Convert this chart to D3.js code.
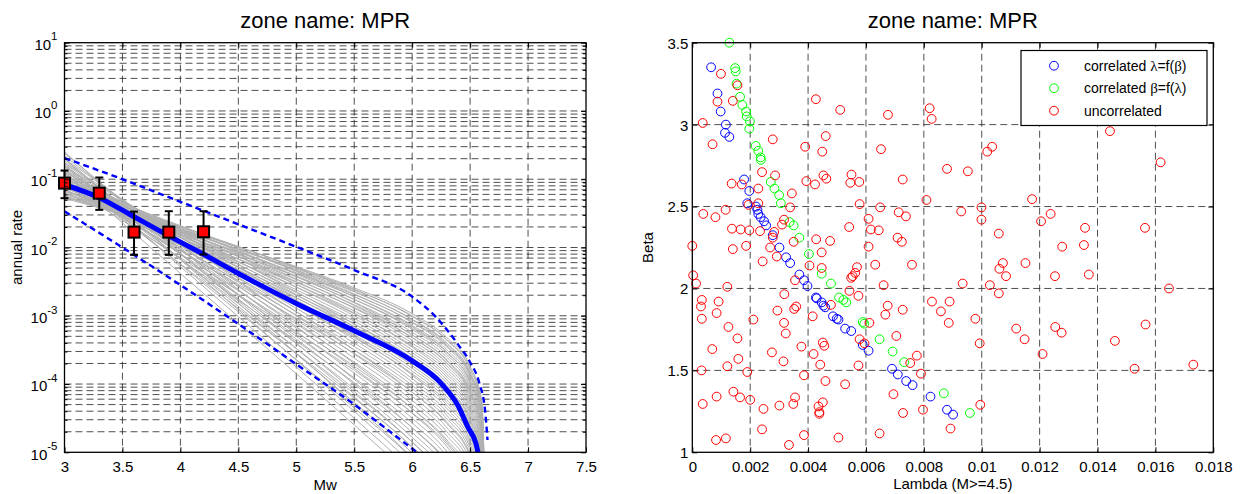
<!DOCTYPE html>
<html>
<head>
<meta charset="utf-8">
<script src="https://cdn.jsdelivr.net/npm/d3@7"></script>
<style>
  body { margin: 0; background: #fff; }
  svg { font-family: "Liberation Sans", Arial, Helvetica, sans-serif; }
</style>
</head>
<body>
<svg id="chart" width="1244" height="494"></svg>
<script>
// ---------- left panel: recurrence curves (log10 of annual rate) ----------
const mwTicks = [3, 3.5, 4, 4.5, 5, 5.5, 6, 6.5, 7, 7.5];
const grayMw = [3, 4, 5, 5.5, 6, 6.3, 6.5, 6.6, 6.65];
const grayLog10 = [
  [-1.25, -1.73, -2.28, -2.59, -2.97, -3.32, -3.74, -4.24, -8],
  [-1.28, -1.76, -2.31, -2.62, -3.00, -3.35, -3.77, -4.27, -8],
  [-1.18, -1.70, -2.29, -2.61, -3.01, -3.36, -3.79, -4.29, -8],
  [-1.22, -1.74, -2.33, -2.65, -3.05, -3.40, -3.83, -4.33, -8],
  [-1.26, -1.78, -2.37, -2.69, -3.09, -3.44, -3.87, -4.37, -8],
  [-1.12, -1.69, -2.30, -2.64, -3.06, -3.42, -3.85, -4.35, -8],
  [-1.16, -1.73, -2.34, -2.68, -3.10, -3.46, -3.89, -4.39, -8],
  [-1.20, -1.77, -2.38, -2.72, -3.14, -3.50, -3.93, -4.43, -8],
  [-1.24, -1.81, -2.42, -2.76, -3.18, -3.54, -3.97, -4.47, -8],
  [-1.05, -1.68, -2.35, -2.72, -3.16, -3.53, -3.97, -4.47, -8],
  [-1.09, -1.72, -2.39, -2.76, -3.20, -3.57, -4.01, -4.51, -8],
  [-1.13, -1.76, -2.43, -2.80, -3.24, -3.61, -4.05, -4.55, -8],
  [-1.17, -1.80, -2.47, -2.84, -3.28, -3.65, -4.09, -4.59, -8],
  [-1.21, -1.84, -2.51, -2.88, -3.32, -3.69, -4.13, -4.63, -8],
  [-1.00, -1.70, -2.42, -2.81, -3.28, -3.66, -4.11, -4.62, -8],
  [-1.04, -1.74, -2.46, -2.85, -3.32, -3.70, -4.15, -4.66, -8],
  [-1.08, -1.78, -2.50, -2.89, -3.36, -3.74, -4.19, -4.70, -8],
  [-1.12, -1.82, -2.54, -2.93, -3.40, -3.78, -4.23, -4.74, -8],
  [-1.16, -1.86, -2.58, -2.97, -3.44, -3.82, -4.27, -4.78, -8],
  [-0.95, -1.73, -2.54, -2.96, -3.46, -3.86, -4.31, -4.83, -8],
  [-0.99, -1.77, -2.58, -3.00, -3.50, -3.90, -4.35, -4.87, -8],
  [-1.03, -1.81, -2.62, -3.04, -3.54, -3.94, -4.39, -4.91, -8],
  [-1.07, -1.85, -2.66, -3.08, -3.58, -3.98, -4.43, -4.95, -8],
  [-1.11, -1.89, -2.70, -3.12, -3.62, -4.02, -4.47, -4.99, -8],
  [-1.15, -1.93, -2.74, -3.16, -3.66, -4.06, -4.51, -5.03, -8],
  [-0.90, -1.77, -2.65, -3.12, -3.65, -4.07, -4.53, -5.05, -8],
  [-0.94, -1.81, -2.69, -3.16, -3.69, -4.11, -4.57, -5.09, -8],
  [-0.98, -1.85, -2.73, -3.20, -3.73, -4.15, -4.61, -5.13, -8],
  [-1.02, -1.89, -2.77, -3.24, -3.77, -4.19, -4.65, -5.17, -8],
  [-1.06, -1.93, -2.81, -3.28, -3.81, -4.23, -4.69, -5.21, -8],
  [-1.10, -1.97, -2.85, -3.32, -3.85, -4.27, -4.73, -5.25, -8],
  [-0.82, -1.80, -2.79, -3.30, -3.87, -4.31, -4.78, -5.31, -8],
  [-0.87, -1.85, -2.84, -3.35, -3.92, -4.36, -4.83, -5.36, -8],
  [-0.92, -1.90, -2.89, -3.40, -3.97, -4.41, -4.88, -5.41, -8],
  [-0.97, -1.95, -2.94, -3.45, -4.02, -4.46, -4.93, -5.46, -8],
  [-1.02, -2.00, -2.99, -3.50, -4.07, -4.51, -4.98, -5.51, -8],
  [-1.07, -2.05, -3.04, -3.55, -4.12, -4.56, -5.03, -5.56, -8],
  [-0.76, -1.85, -2.94, -3.50, -4.12, -4.58, -5.06, -5.60, -8],
  [-0.82, -1.91, -3.00, -3.56, -4.18, -4.64, -5.12, -5.66, -8],
  [-0.88, -1.97, -3.06, -3.62, -4.24, -4.70, -5.18, -5.72, -8],
  [-0.94, -2.03, -3.12, -3.68, -4.30, -4.76, -5.24, -5.78, -8],
  [-1.00, -2.09, -3.18, -3.74, -4.36, -4.82, -5.30, -5.84, -8],
  [-1.06, -2.15, -3.24, -3.80, -4.42, -4.88, -5.36, -5.90, -8],
  [-0.70, -1.89, -3.09, -3.70, -4.36, -4.85, -5.35, -5.89, -8],
  [-0.77, -1.96, -3.16, -3.77, -4.43, -4.92, -5.42, -5.96, -8],
  [-0.84, -2.03, -3.23, -3.84, -4.50, -4.99, -5.49, -6.03, -8],
  [-0.91, -2.10, -3.30, -3.91, -4.57, -5.06, -5.56, -6.10, -8],
  [-0.98, -2.17, -3.37, -3.98, -4.64, -5.13, -5.63, -6.17, -8],
  [-0.66, -1.96, -3.27, -3.93, -4.64, -5.15, -5.66, -6.21, -8],
  [-0.73, -2.03, -3.34, -4.00, -4.71, -5.22, -5.73, -6.28, -8],
  [-0.80, -2.10, -3.41, -4.07, -4.78, -5.29, -5.80, -6.35, -8],
  [-0.87, -2.17, -3.48, -4.14, -4.85, -5.36, -5.87, -6.42, -8],
  [-0.94, -2.24, -3.55, -4.21, -4.92, -5.43, -5.94, -6.49, -8],
  [-0.62, -2.01, -3.40, -4.11, -4.85, -5.38, -5.90, -6.45, -8],
  [-0.70, -2.09, -3.48, -4.19, -4.93, -5.46, -5.98, -6.53, -8],
  [-0.78, -2.17, -3.56, -4.27, -5.01, -5.54, -6.06, -6.61, -8],
  [-0.86, -2.25, -3.64, -4.35, -5.09, -5.62, -6.14, -6.69, -8],
  [-0.60, -2.08, -3.55, -4.30, -5.08, -5.63, -6.17, -6.73, -8],
  [-0.70, -2.18, -3.65, -4.40, -5.18, -5.73, -6.27, -6.83, -8],
  [-0.80, -2.28, -3.75, -4.50, -5.28, -5.83, -6.37, -6.93, -8],
  [-0.90, -2.38, -3.85, -4.60, -5.38, -5.93, -6.47, -7.03, -8]
];
const meanMw = [3, 3.3, 3.6, 3.9, 4.2, 4.5, 5, 5.5, 6, 6.25, 6.4, 6.48, 6.55, 6.58];
const meanLog10 = [-1.08, -1.27, -1.55, -1.83, -2.10, -2.38, -2.82, -3.22, -3.66, -3.99, -4.33, -4.63, -4.87, -5.1];
const upperMw = [3, 3.5, 4, 4.5, 5, 5.5, 6, 6.2, 6.4, 6.5, 6.58, 6.63, 6.65];
const upperLog10 = [-0.69, -1.0, -1.33, -1.66, -1.99, -2.33, -2.72, -3.01, -3.43, -3.68, -3.99, -4.4, -4.82];
const lowerMw = [3, 3.5, 4, 4.5, 5, 5.5, 5.75, 6.04];
const lowerLog10 = [-1.47, -2.0, -2.55, -3.12, -3.71, -4.30, -4.62, -5.0];
const obsMw = [3, 3.3, 3.6, 3.9, 4.2];
const obsRate = [0.0877, 0.0625, 0.0168, 0.0168, 0.0170];
const obsLow = [0.0528, 0.0356, 0.0078, 0.0078, 0.0079];
const obsHigh = [0.134, 0.106, 0.0336, 0.0340, 0.0340];

// ---------- right panel: [Lambda(M>=4.5), Beta] samples ----------
const lambdaTicks = [0, 0.002, 0.004, 0.006, 0.008, 0.01, 0.012, 0.014, 0.016, 0.018];
const betaTicks = [1, 1.5, 2, 2.5, 3, 3.5];
const corrLambda = [
  [0.00065, 3.35], [0.00087, 3.19], [0.00098, 3.08], [0.00116, 3.00], [0.00113, 2.95], [0.00128, 2.925],
  [0.00179, 2.665], [0.00197, 2.595], [0.00190, 2.52], [0.00220, 2.50], [0.00225, 2.48], [0.00228, 2.455],
  [0.00236, 2.435], [0.00248, 2.41], [0.00255, 2.385], [0.00278, 2.325], [0.00301, 2.25], [0.00324, 2.19],
  [0.00338, 2.155], [0.00370, 2.085], [0.00386, 2.05], [0.00398, 2.015], [0.00427, 1.945], [0.00430, 1.94],
  [0.00447, 1.915], [0.00453, 1.895], [0.00459, 1.885], [0.00486, 1.83], [0.00499, 1.815], [0.00505, 1.81],
  [0.00528, 1.755], [0.00549, 1.74], [0.00589, 1.655], [0.00609, 1.62], [0.00690, 1.51], [0.00710, 1.475],
  [0.00739, 1.435], [0.00761, 1.41], [0.00823, 1.34], [0.00880, 1.26], [0.00901, 1.23]
];
const corrBeta = [
  [0.00128, 3.50], [0.00148, 3.345], [0.00150, 3.325], [0.00153, 3.25], [0.00165, 3.17], [0.00173, 3.12],
  [0.00186, 3.08], [0.00188, 3.05], [0.00199, 3.02], [0.00197, 2.975], [0.00219, 2.87], [0.00228, 2.84],
  [0.00236, 2.80], [0.00237, 2.785], [0.00271, 2.65], [0.00284, 2.61], [0.00300, 2.57], [0.00306, 2.52],
  [0.00336, 2.405], [0.00350, 2.385], [0.00370, 2.31], [0.00403, 2.21], [0.00447, 2.09], [0.00479, 2.03],
  [0.00507, 1.945], [0.00522, 1.93], [0.00532, 1.915], [0.00589, 1.795], [0.00594, 1.785], [0.00647, 1.69],
  [0.00692, 1.615], [0.00732, 1.55], [0.00869, 1.36], [0.00959, 1.24]
];
const uncorrelated = [
  [0.00099, 3.31], [0.00087, 3.14], [0.00140, 3.145], [0.00156, 3.24], [0.00036, 3.01], [0.00070, 2.88],
  [0.00278, 2.91], [0.00427, 3.155], [0.00511, 3.09], [0.00676, 3.06], [0.00390, 2.865], [0.00461, 2.93],
  [0.00449, 2.835], [0.00652, 2.85], [0.00241, 2.71], [0.00286, 2.69], [0.00394, 2.655], [0.00424, 2.635],
  [0.00453, 2.69], [0.00463, 2.67], [0.00550, 2.695], [0.00546, 2.645], [0.00577, 2.65], [0.00727, 2.665],
  [0.00136, 2.64], [0.00171, 2.635], [0.00228, 2.61], [0.00344, 2.58], [0.00038, 2.455], [0.00080, 2.435],
  [0.00115, 2.48], [0.00194, 2.51], [0.00228, 2.52], [0.00338, 2.495], [0.00578, 2.515], [0.00317, 2.42],
  [0.00310, 2.39], [0.00542, 2.375], [0.00609, 2.425], [0.00617, 2.36], [0.00644, 2.355], [0.00649, 2.495],
  [0.00713, 2.465], [0.00738, 2.44], [0.00809, 2.54], [0.00137, 2.365], [0.00167, 2.36], [0.00197, 2.355],
  [0.00234, 2.35], [0.00283, 2.345], [0.00278, 2.31], [0.00350, 2.285], [0.00428, 2.30], [0.00476, 2.29],
  [0.00609, 2.255], [0.00709, 2.31], [0.00724, 2.285], [0.00000, 2.26], [0.00140, 2.24], [0.00186, 2.26],
  [0.00269, 2.25], [0.00447, 2.22],
  [0.00292, 2.195], [0.00243, 2.165], [0.00405, 2.14], [0.00447, 2.125], [0.00632, 2.145], [0.00759, 2.145],
  [0.00569, 2.13], [0.00563, 2.095], [0.00554, 2.075], [0.00549, 2.065], [0.00003, 2.08], [0.00013, 2.03],
  [0.00121, 2.01], [0.00355, 2.05], [0.00318, 1.965], [0.00543, 1.985], [0.00574, 1.955], [0.00661, 2.02],
  [0.00033, 1.93], [0.00030, 1.89], [0.00091, 1.92], [0.00033, 1.815], [0.00084, 1.85], [0.00125, 1.765],
  [0.00211, 1.81], [0.00294, 1.865], [0.00317, 1.79], [0.00323, 1.725], [0.00352, 1.875], [0.00359, 1.89],
  [0.00416, 1.83], [0.00479, 1.90], [0.00612, 1.79], [0.00667, 1.84], [0.00675, 1.895], [0.00727, 1.87],
  [0.00069, 1.63], [0.00156, 1.695], [0.00275, 1.61], [0.00377, 1.645], [0.00419, 1.60], [0.00451, 1.67],
  [0.00456, 1.65], [0.00578, 1.69], [0.00595, 1.665], [0.00705, 1.71], [0.00776, 1.59], [0.00121, 1.525],
  [0.00159, 1.57], [0.00190, 1.49], [0.00032, 1.50], [0.00315, 1.555], [0.00386, 1.47], [0.00442, 1.535],
  [0.00460, 1.435], [0.00528, 1.415], [0.00574, 1.53], [0.00753, 1.545], [0.00790, 1.48], [0.00142, 1.37],
  [0.00165, 1.335], [0.00200, 1.32], [0.00084, 1.34], [0.00036, 1.295], [0.00246, 1.265], [0.00301, 1.285],
  [0.00349, 1.295], [0.00355, 1.335], [0.00436, 1.28], [0.00451, 1.305], [0.00439, 1.245], [0.00439, 1.235],
  [0.00695, 1.355], [0.00728, 1.24], [0.00797, 1.26], [0.00241, 1.14], [0.00082, 1.075], [0.00116, 1.085],
  [0.00334, 1.045], [0.00386, 1.105], [0.00505, 1.09], [0.00647, 1.115],
  [0.00820, 3.10], [0.00827, 3.035], [0.01443, 2.96], [0.01036, 2.865], [0.01019, 2.835], [0.00880, 2.73],
  [0.00952, 2.715], [0.01618, 2.77], [0.00929, 2.47], [0.00999, 2.495], [0.00999, 2.42], [0.01059, 2.335],
  [0.01174, 2.545], [0.01205, 2.41], [0.01238, 2.455], [0.01357, 2.37], [0.01564, 2.37], [0.01278, 2.255],
  [0.01353, 2.265], [0.01073, 2.155], [0.01061, 2.12], [0.01084, 2.075], [0.01151, 2.155], [0.01253, 2.075],
  [0.01370, 2.085], [0.00934, 2.03], [0.01028, 2.02], [0.01059, 1.97], [0.01647, 2.0], [0.00828, 1.92],
  [0.00889, 1.92], [0.00859, 1.86], [0.00886, 1.79], [0.00978, 1.815], [0.00993, 1.665], [0.01119, 1.755],
  [0.01148, 1.69], [0.01254, 1.765], [0.01276, 1.73], [0.01210, 1.60], [0.01460, 1.68], [0.01566, 1.78],
  [0.01528, 1.51], [0.01731, 1.535], [0.00995, 1.29], [0.00892, 1.145]
];
const legendLabels = [
  {pre: 'correlated ', a: 'λ', mid: '=f(', b: 'β', post: ')', color: '#0000ff'},
  {pre: 'correlated ', a: 'β', mid: '=f(', b: 'λ', post: ')', color: '#00ff00'},
  {pre: 'uncorrelated', a: '', mid: '', b: '', post: '', color: '#ff0000'}
];

const svg = d3.select('#chart');
const dash = '7,4';

// ================= left panel =================
const L = {left: 64.5, right: 586, top: 42.7, bottom: 452.3};
const xL = d3.scaleLinear().domain([3, 7.5]).range([L.left, L.right]);
const yL = d3.scaleLog().domain([1e-5, 10]).range([L.bottom, L.top]);
const decades = d3.range(-5, 2).map(e => Math.pow(10, e));
const minors = [];
d3.range(-5, 1).forEach(e => { for (let k = 2; k <= 9; k++) minors.push(k * Math.pow(10, e)); });

const gL = svg.append('g');
svg.append('defs').append('clipPath').attr('id', 'clipL')
  .append('rect').attr('x', L.left).attr('y', L.top)
  .attr('width', L.right - L.left).attr('height', L.bottom - L.top);

// grid
gL.append('g').selectAll('line').data(decades.concat(minors).filter(v => v > 1e-5 && v < 10))
  .join('line')
  .attr('x1', L.left).attr('x2', L.right)
  .attr('y1', d => yL(d)).attr('y2', d => yL(d))
  .attr('stroke', '#222').attr('stroke-width', 0.8).attr('stroke-dasharray', dash);
gL.append('g').selectAll('line').data(mwTicks.slice(1, -1))
  .join('line')
  .attr('x1', d => xL(d)).attr('x2', d => xL(d))
  .attr('y1', L.top).attr('y2', L.bottom)
  .attr('stroke', '#222').attr('stroke-width', 0.8).attr('stroke-dasharray', dash);

const curves = gL.append('g').attr('clip-path', 'url(#clipL)');
const lineL = d3.line().x(d => xL(d[0])).y(d => yL(Math.pow(10, d[1]))).curve(d3.curveMonotoneX);

curves.selectAll('path.gr').data(grayLog10).join('path')
  .attr('class', 'gr')
  .attr('d', row => lineL(grayMw.map((m, i) => [m, row[i]])))
  .attr('fill', 'none').attr('stroke', '#b0b0b0').attr('stroke-width', 1);

curves.append('path')
  .attr('d', lineL(upperMw.map((m, i) => [m, upperLog10[i]])))
  .attr('fill', 'none').attr('stroke', '#0000ff').attr('stroke-width', 2.4).attr('stroke-dasharray', '6,4');
curves.append('path')
  .attr('d', lineL(lowerMw.map((m, i) => [m, lowerLog10[i]])))
  .attr('fill', 'none').attr('stroke', '#0000ff').attr('stroke-width', 2.4).attr('stroke-dasharray', '6,4');
curves.append('path')
  .attr('d', lineL(meanMw.map((m, i) => [m, meanLog10[i]])))
  .attr('fill', 'none').attr('stroke', '#0000ff').attr('stroke-width', 5);

// observed rates with error bars
const obs = obsMw.map((m, i) => ({m, r: obsRate[i], lo: obsLow[i], hi: obsHigh[i]}));
const eb = gL.append('g').attr('stroke', '#000').attr('stroke-width', 2);
eb.selectAll('line.v').data(obs).join('line').attr('class', 'v')
  .attr('x1', d => xL(d.m)).attr('x2', d => xL(d.m))
  .attr('y1', d => yL(d.lo)).attr('y2', d => yL(d.hi));
eb.selectAll('line.t').data(obs).join('line').attr('class', 't')
  .attr('x1', d => xL(d.m) - 4).attr('x2', d => xL(d.m) + 4)
  .attr('y1', d => yL(d.hi)).attr('y2', d => yL(d.hi));
eb.selectAll('line.b').data(obs).join('line').attr('class', 'b')
  .attr('x1', d => xL(d.m) - 4).attr('x2', d => xL(d.m) + 4)
  .attr('y1', d => yL(d.lo)).attr('y2', d => yL(d.lo));
gL.append('g').selectAll('rect').data(obs).join('rect')
  .attr('x', d => xL(d.m) - 5.5).attr('y', d => yL(d.r) - 5.5)
  .attr('width', 11).attr('height', 11)
  .attr('fill', '#ff0000').attr('stroke', '#000').attr('stroke-width', 2);

// axes
const fixAxis = g => g.attr('font-size', 15).attr('font-family', null).call(s => s.select('.domain').remove());
gL.append('g').attr('transform', `translate(0,${L.bottom})`)
  .call(d3.axisBottom(xL).tickValues(mwTicks).tickSize(-5).tickSizeOuter(0).tickPadding(8.7).tickFormat(d3.format('')))
  .call(fixAxis);
gL.append('g').attr('transform', `translate(0,${L.top})`)
  .call(d3.axisTop(xL).tickValues(mwTicks).tickSize(-5).tickSizeOuter(0).tickFormat(''))
  .call(fixAxis);
gL.append('g').attr('transform', `translate(${L.left},0)`)
  .call(d3.axisLeft(yL).tickValues(decades).tickSize(-5).tickSizeOuter(0).tickPadding(7).tickFormat(() => '10'))
  .call(fixAxis)
  .call(g => g.selectAll('.tick text').attr('dy', '0.45em')
    .append('tspan').attr('dy', -9.5).attr('font-size', 11.5).text(d => Math.round(Math.log10(d))));
gL.append('g').attr('transform', `translate(${L.left},0)`)
  .call(d3.axisLeft(yL).tickValues(minors).tickSize(-3).tickSizeOuter(0).tickFormat(''))
  .call(fixAxis);
gL.append('g').attr('transform', `translate(${L.right},0)`)
  .call(d3.axisRight(yL).tickValues(decades).tickSize(-5).tickSizeOuter(0).tickFormat(''))
  .call(fixAxis);
gL.append('g').attr('transform', `translate(${L.right},0)`)
  .call(d3.axisRight(yL).tickValues(minors).tickSize(-3).tickSizeOuter(0).tickFormat(''))
  .call(fixAxis);
gL.append('rect').attr('x', L.left).attr('y', L.top)
  .attr('width', L.right - L.left).attr('height', L.bottom - L.top)
  .attr('fill', 'none').attr('stroke', '#000').attr('stroke-width', 1.3);

gL.append('text').attr('x', (L.left + L.right) / 2).attr('y', 28)
  .attr('text-anchor', 'middle').attr('font-size', 22).text('zone name: MPR');
gL.append('text').attr('x', (L.left + L.right) / 2).attr('y', 490)
  .attr('text-anchor', 'middle').attr('font-size', 15).text('Mw');
gL.append('text').attr('transform', `translate(21.5,${(L.top + L.bottom) / 2}) rotate(-90)`)
  .attr('text-anchor', 'middle').attr('font-size', 15).text('annual rate');

// ================= right panel =================
const R = {left: 692.3, right: 1213.3, top: 42.7, bottom: 452.3};
const xR = d3.scaleLinear().domain([0, 0.018]).range([R.left, R.right]);
const yR = d3.scaleLinear().domain([1, 3.5]).range([R.bottom, R.top]);
const gR = svg.append('g');

gR.append('g').selectAll('line').data(betaTicks.slice(1, -1)).join('line')
  .attr('x1', R.left).attr('x2', R.right)
  .attr('y1', d => yR(d)).attr('y2', d => yR(d))
  .attr('stroke', '#222').attr('stroke-width', 0.8).attr('stroke-dasharray', dash);
gR.append('g').selectAll('line').data(lambdaTicks.slice(1, -1)).join('line')
  .attr('x1', d => xR(d)).attr('x2', d => xR(d))
  .attr('y1', R.top).attr('y2', R.bottom)
  .attr('stroke', '#222').attr('stroke-width', 0.8).attr('stroke-dasharray', dash);

const series = [
  {data: corrLambda, color: '#0000ff'},
  {data: corrBeta, color: '#00ff00'},
  {data: uncorrelated, color: '#ff0000'}
];
series.forEach(s => {
  gR.append('g').selectAll('circle').data(s.data).join('circle')
    .attr('cx', d => xR(d[0])).attr('cy', d => yR(d[1])).attr('r', 4.4)
    .attr('fill', 'none').attr('stroke', s.color).attr('stroke-width', 1);
});

const lamFmt = d => d === 0 ? '0' : String(+d.toFixed(3));
gR.append('g').attr('transform', `translate(0,${R.bottom})`)
  .call(d3.axisBottom(xR).tickValues(lambdaTicks).tickSize(-5).tickSizeOuter(0).tickPadding(8.7).tickFormat(lamFmt))
  .call(fixAxis);
gR.append('g').attr('transform', `translate(0,${R.top})`)
  .call(d3.axisTop(xR).tickValues(lambdaTicks).tickSize(-5).tickSizeOuter(0).tickFormat(''))
  .call(fixAxis);
gR.append('g').attr('transform', `translate(${R.left},0)`)
  .call(d3.axisLeft(yR).tickValues(betaTicks).tickSize(-5).tickSizeOuter(0).tickPadding(4).tickFormat(d3.format('')))
  .call(fixAxis)
  .call(g => g.selectAll('.tick text').attr('dy', '0.36em'));
gR.append('g').attr('transform', `translate(${R.right},0)`)
  .call(d3.axisRight(yR).tickValues(betaTicks).tickSize(-5).tickSizeOuter(0).tickFormat(''))
  .call(fixAxis);
gR.append('rect').attr('x', R.left).attr('y', R.top)
  .attr('width', R.right - R.left).attr('height', R.bottom - R.top)
  .attr('fill', 'none').attr('stroke', '#000').attr('stroke-width', 1.3);

gR.append('text').attr('x', (R.left + R.right) / 2).attr('y', 28)
  .attr('text-anchor', 'middle').attr('font-size', 22).text('zone name: MPR');
gR.append('text').attr('x', (R.left + R.right) / 2).attr('y', 489)
  .attr('text-anchor', 'middle').attr('font-size', 15).text('Lambda (M>=4.5)');
gR.append('text').attr('transform', `translate(653,${(R.top + R.bottom) / 2}) rotate(-90)`)
  .attr('text-anchor', 'middle').attr('font-size', 15).text('Beta');

// legend
const leg = gR.append('g').attr('transform', 'translate(1021,50.5)');
leg.append('rect').attr('width', 186).attr('height', 75)
  .attr('fill', '#fff').attr('stroke', '#000').attr('stroke-width', 1.2);
const rows = leg.selectAll('g.row').data(legendLabels).join('g')
  .attr('class', 'row').attr('transform', (d, i) => `translate(0,${15.2 + i * 22.5})`);
rows.append('circle').attr('cx', 33).attr('r', 4.4)
  .attr('fill', 'none').attr('stroke', d => d.color).attr('stroke-width', 1);
const lt = rows.append('text').attr('x', 63).attr('y', 5).attr('font-size', 14);
lt.append('tspan').text(d => d.pre);
lt.append('tspan').attr('font-family', '"Liberation Serif", "DejaVu Serif", serif').attr('font-size', 15).text(d => d.a);
lt.append('tspan').text(d => d.mid);
lt.append('tspan').attr('font-family', '"Liberation Serif", "DejaVu Serif", serif').attr('font-size', 15).text(d => d.b);
lt.append('tspan').text(d => d.post);
</script>
</body>
</html>
